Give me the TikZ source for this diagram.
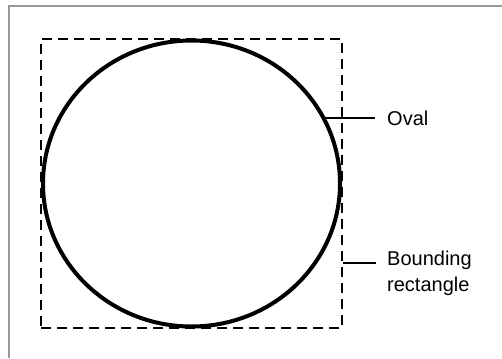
\documentclass[tikz,border=0pt]{standalone}
\usepackage{fontspec}
\setmainfont{Liberation Sans}
\usetikzlibrary{positioning, shapes.geometric}

\begin{document}
\begin{tikzpicture}[
    x=1pt, y=-1pt,
    frame/.style ={draw=black!40, line width=2pt},
    bbox/.style  ={draw, dashed, line width=2pt, dash pattern=on 10pt off 6pt,
                   inner sep=0pt, minimum width=301pt, minimum height=289pt},
    oval/.style  ={draw, ellipse, line width=4pt, inner sep=0pt,
                   minimum width=297pt, minimum height=286pt},
    lead/.style  ={line width=1.6pt},
    lbl/.style   ={font=\fontsize{20}{26}\selectfont, align=left, inner sep=0pt},
]
\useasboundingbox (0,0) rectangle (502,358);
% window edge
\draw[frame] (9,358) -- (9,6) -- (502,6);
% rectangle and oval
\node[bbox] (rect) at (191.5,183.5) {};
\node[oval] (circ) at (191.5,183.5) {};
% labels
\node[lbl, anchor=west] (ovallbl) at (387,118) {Oval};
\node[lbl, anchor=north west] (bndlbl) at (387,251) {Bounding\\rectangle};
% leaders
\coordinate (ovaltip) at (323,118);
\coordinate (ovalend) at ([xshift=-12pt]ovallbl.west);
\draw[lead] (ovaltip) -- (ovalend);
\coordinate (bndtip) at (rect.east |- 0,263);
\coordinate (bndend) at (376,263);
\draw[lead] (bndtip) -- (bndend);
\end{tikzpicture}
\end{document}
